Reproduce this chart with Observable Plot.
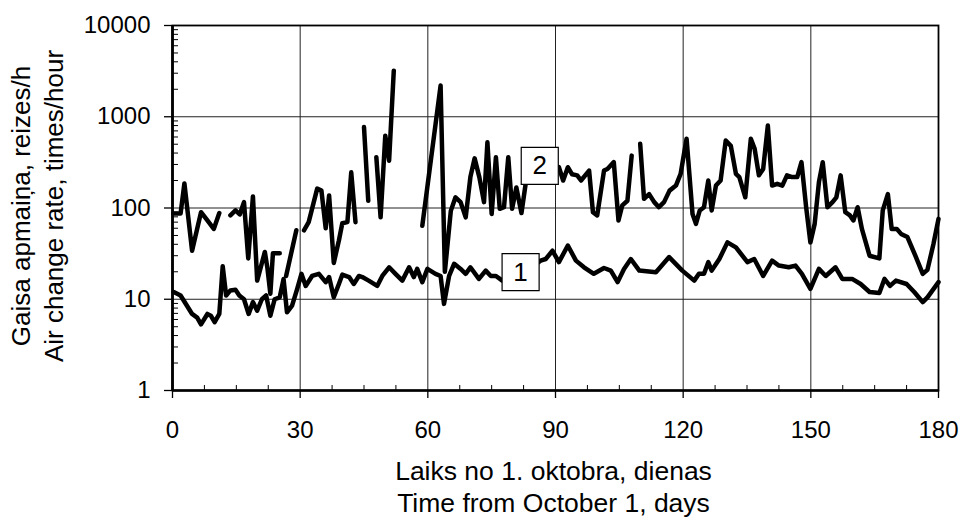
<!DOCTYPE html>
<html>
<head>
<meta charset="utf-8">
<script src="https://cdn.jsdelivr.net/npm/d3@7"></script>
<script src="https://cdn.jsdelivr.net/npm/@observablehq/plot@0.6"></script>
<style>
  html, body { margin: 0; padding: 0; background: #fff; }
  #chart { width: 959px; height: 519px; }
</style>
</head>
<body>
<div id="chart"></div>
<script>
// ---- Data ----
// Series 1 (lower curve)
const s1Days = [0.3,1.9,3.4,4.6,5.8,6.7,8.2,9,9.9,11,11.8,12.6,13.6,14.8,15.7,16.8,17.9,18.9,19.9,21,22,23,24,25.2,26.1,26.9,28.1,29.3,30.3,31.3,32.8,34.4,36,36.8,37.9,39.1,39.9,41.5,42.6,43.8,44.6,46.1,48.1,49.3,50.9,52.4,54,55.6,56.7,57.5,58.7,59.9,61.8,63,63.8,65,66.2,67.7,68.9,70,72,73.6,74.8,76,77.5,80,83,86.5,87.7,89.3,90.8,92.9,94.8,96.7,99,101.4,103,104.6,106.1,107.7,109.7,113.6,116.7,119.8,122.6,123.7,124.9,125.9,126.7,128.5,130.4,132.4,135.1,136.7,138.8,140.9,142.5,144.8,146.4,147.9,149.9,151.9,153.5,155.8,157.4,159.7,161.7,163.8,166.1,167.3,168.6,170,172.5,174.3,176.3,177.4,180];
const s1Values = [12,11,8.5,6.9,6.3,5.3,6.9,6.6,5.6,6.9,23,11,12.5,12.7,11,10,6.9,9.3,7.5,10,11,6.6,10,10.5,16.7,7.2,8.5,13,19,14,18,19,15.4,17.5,10.5,14.7,18.6,17.5,14.7,18,17.5,16,14,18,22.4,19,16,22.4,17.5,21.5,15.4,21.5,19,18,8.9,18,24.5,21.5,19,22.4,16.7,20.6,18,18,16,17,20,26.5,27.6,34,25.5,38.8,26.5,22.4,19,22,20.6,15.4,21.5,27.6,20.6,19.8,29,20.6,16,19,19,25.5,20.6,27.6,42,37,25.5,27.6,18,26.5,23.4,22.4,23.4,19,13,21.5,18,22.4,16.7,16.7,14.7,12,11.7,16.7,14,16,14.7,12,9.3,10.5,15.4];

// Series 2 (upper curve); null marks a break in the line
const s2Days = [0.2,1.9,2.8,4.6,6.7,8.2,9.7,11,12.3,13.6,14.8,15.8,16.8,17.8,18.9,19.9,21.7,22.3,23,23.6,25.2,26,26.7,29.1,30,30.9,32,34,35,36,36.8,37.9,39.1,39.9,41.1,42,43,44,45,46,47,47.9,48.9,50,50.9,52,55,58.7,63,64,65.4,66.5,67.7,68.9,70,71,72.1,73.2,74,75,76,76.9,77.9,78.9,79.8,80.8,82,83,85,87,89,90.8,91.8,92.9,93.9,95.1,96,97.9,98.8,99.8,101.4,102.2,103.7,104.8,105.7,106.9,107.9,109,109.9,110.8,112,113.2,114.3,115.5,116.8,118.3,119.4,120.8,122.2,123,123.9,124.9,125.9,126.7,127.7,128.8,130,131.2,132.4,133.2,134.6,135.9,136.8,137.8,138.8,139.9,140.9,142.1,143.3,144.4,145.6,146.8,147.8,148.9,149.9,150.9,151.9,152.8,153.9,155.1,156,157,158.1,159.2,160,161,162,163.8,166.1,166.9,168.1,169,170.2,171.2,172.7,174.7,176.3,177.4,178.8,180];
const s2Values = [87,87,186,34,90,73,59,88,null,83,94,85,116,28,134,16,33,22,11.5,32,32,null,18,57,null,57,70,163,155,60,137,25,44,68,70,246,70,null,770,120,null,360,79,620,330,3200,null,64,2200,20,93,131,116,79,218,350,218,116,525,86,360,98,102,360,98,168,88,186,220,250,230,280,200,280,234,228,200,257,90,83,257,268,318,73,107,120,375,null,505,126,142,116,102,116,155,176,237,575,86,67,94,102,200,94,176,200,550,480,237,218,131,575,445,228,268,800,176,184,176,228,218,218,318,102,42,67,192,318,102,116,131,228,90,83,73,102,59,30,28,94,142,59,59,52,48,29,19,21,40,76];

// Curve labels
const labelNames = ["1", "2"];
const labelDays = [81.8, 86.3];
const labelValues = [19.8, 290];

// Axis ticks
const xTicks = [0, 30, 60, 90, 120, 150, 180];
const xMinorTicks = [7.5, 15, 22.5, 37.5, 45, 52.5, 67.5, 75, 82.5, 97.5, 105, 112.5, 127.5, 135, 142.5, 157.5, 165, 172.5];
const yTicks = [1, 10, 100, 1000, 10000];
const yTickLabels = ["1", "10", "100", "1000", "10000"];
const xGrid = [30, 60, 90, 120, 150];
const yGrid = [10, 100, 1000];

const xTitle = ["Laiks no 1. oktobra, dienas", "Time from October 1, days"];
const yTitle = ["Gaisa apmaiņa, reizes/h", "Air change rate, times/hour"];

// ---- Build tables ----
const s1 = s1Days.map((d, i) => ({day: d, value: s1Values[i]}));
const s2 = s2Days.map((d, i) => ({day: d, value: s2Values[i]}));
const labels = labelNames.map((n, i) => ({name: n, day: labelDays[i], value: labelValues[i]}));
const yMinorTicks = [1, 10, 100, 1000].flatMap(d => [2,3,4,5,6,7,8,9].map(k => k * d));

const font = "'Liberation Sans', Arial, Helvetica, sans-serif";

const chart = Plot.plot({
  width: 959,
  height: 519,
  marginTop: 25,
  marginRight: 21,
  marginBottom: 129,
  marginLeft: 172,
  style: {fontFamily: font, background: "white", color: "black"},
  x: {domain: [0, 180]},
  y: {type: "log", domain: [1, 10000]},
  marks: [
    Plot.ruleX(xGrid, {stroke: "#222", strokeWidth: 1}),
    Plot.ruleY(yGrid, {stroke: "#222", strokeWidth: 1}),
    Plot.frame({stroke: "black", strokeWidth: 1.8}),
    Plot.ruleX([0], {stroke: "black", strokeWidth: 2.8}),
    Plot.ruleY([1], {stroke: "black", strokeWidth: 2.4}),
    // x axis major
    Plot.axisX({ticks: xTicks, tickSize: 8, tickPadding: 22, fontSize: 24, label: null, tickFormat: d => String(d), strokeWidth: 1.3}),
    // x axis minor (inward)
    Plot.axisX({ticks: xMinorTicks, tickSize: 5, dy: -5, label: null, tickFormat: () => "", strokeWidth: 1}),
    // y axis major
    Plot.axisY({ticks: yTicks, tickSize: 8, tickPadding: 14, fontSize: 24, label: null, tickFormat: d => yTickLabels[yTicks.indexOf(d)], strokeWidth: 1.3}),
    // y axis minor (inward)
    Plot.axisY({ticks: yMinorTicks, tickSize: 6, dx: 6, label: null, tickFormat: () => "", strokeWidth: 1}),
    // data lines
    Plot.line(s1, {x: "day", y: "value", stroke: "black", strokeWidth: 4.5, strokeLinejoin: "round", strokeLinecap: "round"}),
    Plot.line(s2, {x: "day", y: "value", stroke: "black", strokeWidth: 4.5, strokeLinejoin: "round", strokeLinecap: "round"}),
    // labels
    Plot.dot(labels, {x: "day", y: "value", symbol: "square", r: 20.9, fill: "white", stroke: "black", strokeWidth: 1.2}),
    Plot.text(labels, {x: "day", y: "value", text: "name", fontSize: 26, fill: "black"}),
    // axis titles
    Plot.text([xTitle[0]], {frameAnchor: "bottom", textAnchor: "middle", lineAnchor: "bottom", dy: 89, dx: -2, fontSize: 26.5, fill: "black"}),
    Plot.text([xTitle[1]], {frameAnchor: "bottom", textAnchor: "middle", lineAnchor: "bottom", dy: 121, dx: -2, fontSize: 26.5, fill: "black"}),
    Plot.text([yTitle[0]], {frameAnchor: "left", textAnchor: "middle", lineAnchor: "bottom", rotate: -90, dx: -142.5, dy: -2, fontSize: 26, fill: "black"}),
    Plot.text([yTitle[1]], {frameAnchor: "left", textAnchor: "middle", lineAnchor: "bottom", rotate: -90, dx: -110, dy: -2, fontSize: 26, fill: "black"})
  ]
});

document.getElementById("chart").appendChild(chart);
</script>
</body>
</html>
